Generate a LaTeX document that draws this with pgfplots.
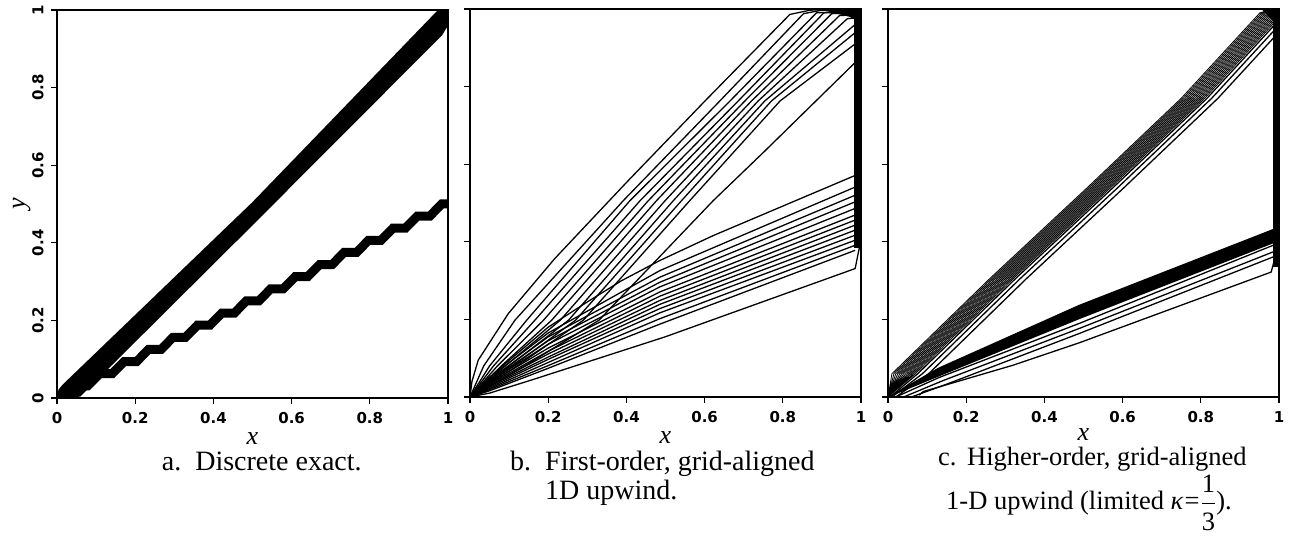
\documentclass[border=0pt]{standalone}
\usepackage{fontspec}
\setmainfont{Liberation Serif}
\newfontfamily\tickfont{DejaVu Sans}
\usepackage{pgfplots}
\pgfplotsset{compat=1.18}
\newcommand\capfont{\fontsize{28bp}{28bp}\selectfont}
\newcommand\capfontc{\fontsize{26.5bp}{28bp}\selectfont}
\pgfplotsset{
  panel/.style={
    scale only axis, width=391bp, height=388bp,
    xmin=0,xmax=1,ymin=0,ymax=1,
    axis line style={line width=1.2bp},
    tick align=outside, tick pos=left,
    major tick length=6bp,
    every tick/.style={line width=1.1bp, black},
    xtick={0,0.2,0.4,0.6,0.8,1},
    xticklabels={0,0.2,0.4,0.6,0.8,1},
    ytick={0,0.2,0.4,0.6,0.8,1},
    tick label style={font=\fontsize{15bp}{17bp}\tickfont\bfseries},
    xticklabel shift=5bp,
    xlabel={\itshape x},
    xlabel style={at={(axis description cs:0.5,-0.105)}, anchor=center, inner sep=0pt, font=\fontsize{26bp}{28bp}\selectfont},
    anchor=south west,
    unbounded coords=jump,
  },
  cl/.style={black, line width=1.3bp, no markers, line join=round},
  dl/.style={black, line width=0.8bp, no markers, line join=round},
}
\begin{document}
\begin{tikzpicture}
\path[use as bounding box] (0,0) rectangle (1298bp,537bp);
% ---------------- panel a
\begin{axis}[panel, at={(57bp,139bp)},
  yticklabels={0,0.2,0.4,0.6,0.8,1},
  yticklabel style={rotate=90, anchor=south},
  yticklabel shift=4bp,
  ylabel={\itshape y},
  ylabel style={at={(axis description cs:-0.09,0.5)}, anchor=center, inner sep=0pt, font=\fontsize{26bp}{28bp}\selectfont}]
\addplot[fill=black, draw=none] coordinates {(0,0) (0.004,0.022) (0.015,0.035) (0.5,0.505) (0.96,0.985) (0.975,1.0) (1,1) (1,0.96) (0.985,0.935) (0.5,0.445) (0.06,0.004) (0.04,0)} -- cycle;
\addplot[black, line width=9bp, no markers, line join=miter] coordinates {
(0,0)
(0.0465,0.03125)(0.0785,0.03125)
(0.109,0.0625)(0.141,0.0625)
(0.1715,0.09375)(0.2035,0.09375)
(0.234,0.125)(0.266,0.125)
(0.2965,0.15625)(0.3285,0.15625)
(0.359,0.1875)(0.391,0.1875)
(0.4215,0.21875)(0.4535,0.21875)
(0.484,0.25)(0.516,0.25)
(0.5465,0.28125)(0.5785,0.28125)
(0.609,0.3125)(0.641,0.3125)
(0.6715,0.34375)(0.7035,0.34375)
(0.734,0.375)(0.766,0.375)
(0.7965,0.40625)(0.8285,0.40625)
(0.859,0.4375)(0.891,0.4375)
(0.9215,0.46875)(0.9535,0.46875)
(0.984,0.5)(1.02,0.5)};
\end{axis}
% ---------------- panel b
\begin{axis}[panel, at={(470bp,140bp)}, yticklabels={}]
% upper fan
\addplot[cl] coordinates {(0,0) (0.005,0.04) (0.021,0.095) (0.098,0.215) (0.217,0.357) (0.345,0.494) (0.405,0.558) (0.601,0.763) (0.818,0.986) (0.87,0.997) (0.985,1.0)};
\addplot[cl] coordinates {(0,0) (0.035,0.08) (0.115,0.198) (0.392,0.506) (0.639,0.763) (0.853,0.988) (0.9,0.997) (0.985,0.998)};
\addplot[cl] coordinates {(0,0) (0.05,0.08) (0.145,0.198) (0.409,0.506) (0.665,0.763) (0.886,0.99) (0.985,0.995)};
\addplot[cl] coordinates {(0,0) (0.06,0.08) (0.166,0.198) (0.435,0.506) (0.686,0.763) (0.905,0.99) (0.985,0.993)};
\addplot[cl] coordinates {(0,0) (0.07,0.08) (0.188,0.198) (0.456,0.506) (0.703,0.763) (0.925,0.988) (0.985,0.99)};
\addplot[cl] coordinates {(0,0) (0.08,0.08) (0.209,0.198) (0.477,0.506) (0.72,0.763) (0.945,0.983) (0.985,0.985)};
\addplot[cl] coordinates {(0,0) (0.09,0.08) (0.231,0.198) (0.499,0.506) (0.737,0.763) (0.965,0.975) (0.985,0.977)};
\addplot[cl] coordinates {(0,0) (0.1,0.08) (0.252,0.198) (0.52,0.506) (0.754,0.763) (0.985,0.96)};
\addplot[cl] coordinates {(0,0) (0.11,0.08) (0.27,0.198) (0.541,0.506) (0.771,0.763) (0.985,0.939)};
\addplot[cl] coordinates {(0,0) (0.12,0.08) (0.29,0.198) (0.562,0.506) (0.793,0.763) (0.985,0.91)};
\addplot[cl] coordinates {(0,0) (0.14,0.08) (0.33,0.198) (0.622,0.506) (0.75,0.63) (0.985,0.862)};
% lower fan
\addplot[cl] coordinates {(0,0) (0.06,0.06) (0.2,0.18) (0.3,0.245) (0.388,0.3) (0.486,0.352) (0.622,0.416) (0.985,0.571)};
\addplot[cl] coordinates {(0,0) (0.05,0.05) (0.2,0.165) (0.486,0.326) (0.985,0.541)};
\addplot[cl] coordinates {(0,0) (0.05,0.045) (0.2,0.155) (0.486,0.309) (0.985,0.52)};
\addplot[cl] coordinates {(0,0) (0.05,0.042) (0.2,0.145) (0.486,0.296) (0.985,0.503)};
\addplot[cl] coordinates {(0,0) (0.05,0.039) (0.2,0.136) (0.486,0.284) (0.985,0.486)};
\addplot[cl] coordinates {(0,0) (0.05,0.036) (0.2,0.126) (0.486,0.271) (0.985,0.469)};
\addplot[cl] coordinates {(0,0) (0.05,0.033) (0.2,0.118) (0.486,0.26) (0.985,0.456)};
\addplot[cl] coordinates {(0,0) (0.05,0.03) (0.2,0.111) (0.486,0.249) (0.985,0.443)};
\addplot[cl] coordinates {(0,0) (0.05,0.028) (0.2,0.103) (0.486,0.239) (0.985,0.43)};
\addplot[cl] coordinates {(0,0) (0.05,0.025) (0.2,0.097) (0.486,0.228) (0.985,0.417)};
\addplot[cl] coordinates {(0,0) (0.05,0.022) (0.2,0.089) (0.486,0.217) (0.985,0.404)};
\addplot[cl] coordinates {(0,0) (0.05,0.019) (0.2,0.081) (0.486,0.202) (0.985,0.391)};
\addplot[cl] coordinates {(0,0) (0.05,0.016) (0.2,0.074) (0.486,0.188) (0.985,0.378)};
\addplot[cl] coordinates {(0,0) (0.05,0.01) (0.158,0.044) (0.499,0.155) (0.985,0.331) (0.996,0.386)};
% boundary layers
\addplot[fill=black, draw=none] coordinates {(0.983,0.385) (1,0.385) (1,1) (0.983,1)} -- cycle;
\addplot[fill=black, draw=none] coordinates {(0.89,1) (1,1) (1,0.965) (0.97,0.98)} -- cycle;
\end{axis}
% ---------------- panel c
\begin{axis}[panel, at={(888bp,140bp)}, yticklabels={},
  xlabel style={at={(axis description cs:0.5,-0.098)}}]
% upper band
\addplot[dl] coordinates {
(0,0) (0.01,0.06) (0.26,0.305) (0.51,0.54) (0.75,0.77) (0.951,0.99) (0.985,1) (nan,nan)
(0,0) (0.015,0.06) (0.265,0.305) (0.515,0.54) (0.755,0.77) (0.956,0.99) (0.99,1) (nan,nan)
(0,0) (0.02,0.06) (0.27,0.305) (0.52,0.54) (0.76,0.77) (0.961,0.99) (0.995,1) (nan,nan)
(0,0) (0.025,0.06) (0.275,0.305) (0.525,0.54) (0.765,0.77) (0.966,0.99) (nan,nan)
(0,0) (0.03,0.06) (0.28,0.305) (0.53,0.54) (0.77,0.77) (0.971,0.99) (nan,nan)
(0,0) (0.035,0.06) (0.285,0.305) (0.535,0.54) (0.775,0.77) (0.976,0.99) (nan,nan)
(0,0) (0.04,0.06) (0.29,0.305) (0.54,0.54) (0.78,0.77) (0.981,0.99) (nan,nan)
(0,0) (0.045,0.06) (0.295,0.305) (0.545,0.54) (0.785,0.77) (0.986,0.99) (nan,nan)
(0,0) (0.05,0.06) (0.3,0.305) (0.55,0.54) (0.79,0.77) (0.991,0.99) (nan,nan)
(0,0) (0.055,0.06) (0.305,0.305) (0.555,0.54) (0.795,0.77) (0.996,0.99) (nan,nan)
(0,0) (0.06,0.06) (0.31,0.305) (0.56,0.54) (0.8,0.77) (1.001,0.99) (nan,nan)
(0,0) (0.065,0.06) (0.315,0.305) (0.565,0.54) (0.805,0.77) (1.006,0.99) (nan,nan)
(0,0) (0.07,0.06) (0.32,0.305) (0.57,0.54) (0.81,0.77) (1.011,0.99)
};
\addplot[cl] coordinates {(0.005,0) (0.076,0.06) (0.326,0.305) (0.576,0.54) (0.816,0.77) (1.017,0.99)};
\addplot[cl] coordinates {(0.01,0) (0.088,0.06) (0.338,0.305) (0.588,0.54) (0.828,0.77) (1.029,0.99)};
\addplot[cl] coordinates {(0.02,0) (0.104,0.06) (0.354,0.305) (0.604,0.54) (0.844,0.77) (1.045,0.99)};
% lower band
\addplot[dl] coordinates {
(0,0) (0.13,0.075) (0.49,0.237) (0.99,0.434) (nan,nan)
(0,0) (0.13,0.0735) (0.49,0.2345) (0.99,0.4315) (nan,nan)
(0,0) (0.13,0.072) (0.49,0.232) (0.99,0.429) (nan,nan)
(0,0) (0.13,0.0705) (0.49,0.2295) (0.99,0.4265) (nan,nan)
(0,0) (0.13,0.069) (0.49,0.227) (0.99,0.424) (nan,nan)
(0,0) (0.13,0.0675) (0.49,0.2245) (0.99,0.4215) (nan,nan)
(0,0) (0.13,0.066) (0.49,0.222) (0.99,0.419) (nan,nan)
(0,0) (0.13,0.0645) (0.49,0.2195) (0.99,0.4165) (nan,nan)
(0,0) (0.13,0.063) (0.49,0.217) (0.99,0.414) (nan,nan)
(0,0) (0.13,0.0615) (0.49,0.2145) (0.99,0.4115) (nan,nan)
(0,0) (0.13,0.06) (0.49,0.212) (0.99,0.409) (nan,nan)
(0,0) (0.13,0.0585) (0.49,0.2095) (0.99,0.4065) (nan,nan)
(0,0) (0.13,0.057) (0.49,0.207) (0.99,0.404) (nan,nan)
(0,0) (0.13,0.0555) (0.49,0.2045) (0.99,0.4015) (nan,nan)
(0,0) (0.13,0.054) (0.49,0.202) (0.99,0.399)
};
\addplot[cl] coordinates {(0.02,0) (0.13,0.05) (0.49,0.19) (0.985,0.391)};
\addplot[cl] coordinates {(0.04,0) (0.14,0.042) (0.49,0.177) (0.985,0.374)};
\addplot[cl] coordinates {(0.06,0) (0.15,0.033) (0.49,0.164) (0.985,0.361)};
\addplot[cl] coordinates {(0.08,0.005) (0.09,0.014) (0.32,0.082) (0.49,0.14) (0.98,0.322) (0.99,0.36)};
% boundary layers
\addplot[fill=black, draw=none] coordinates {(0.985,0.335) (1,0.335) (1,1) (0.985,1)} -- cycle;
\addplot[fill=black, draw=none] coordinates {(0.955,1) (1,1) (1,0.955)} -- cycle;
\end{axis}
% ---------------- captions
\node[anchor=base west, font=\capfont, inner sep=0pt] at (161.7bp,66bp) {a.\hspace{0.5em}Discrete exact.};
\node[anchor=base west, font=\capfont, inner sep=0pt] at (510bp,66bp) {b.\hspace{0.5em}First-order, grid-aligned};
\node[anchor=base west, font=\capfont, inner sep=0pt] at (545bp,38bp) {1D upwind.};
\node[anchor=base west, font=\capfontc, inner sep=0pt] at (938bp,71bp) {c.\hspace{0.4em}Higher-order, grid-aligned};
\node[anchor=base west, font=\capfontc, inner sep=0pt] at (946bp,28bp) {1-D upwind (limited \textit{κ}\kern1pt=\kern1pt$\displaystyle\frac{\hbox{1}}{\hbox{\raisebox{-4bp}{3}}}$).};
\end{tikzpicture}
\end{document}
